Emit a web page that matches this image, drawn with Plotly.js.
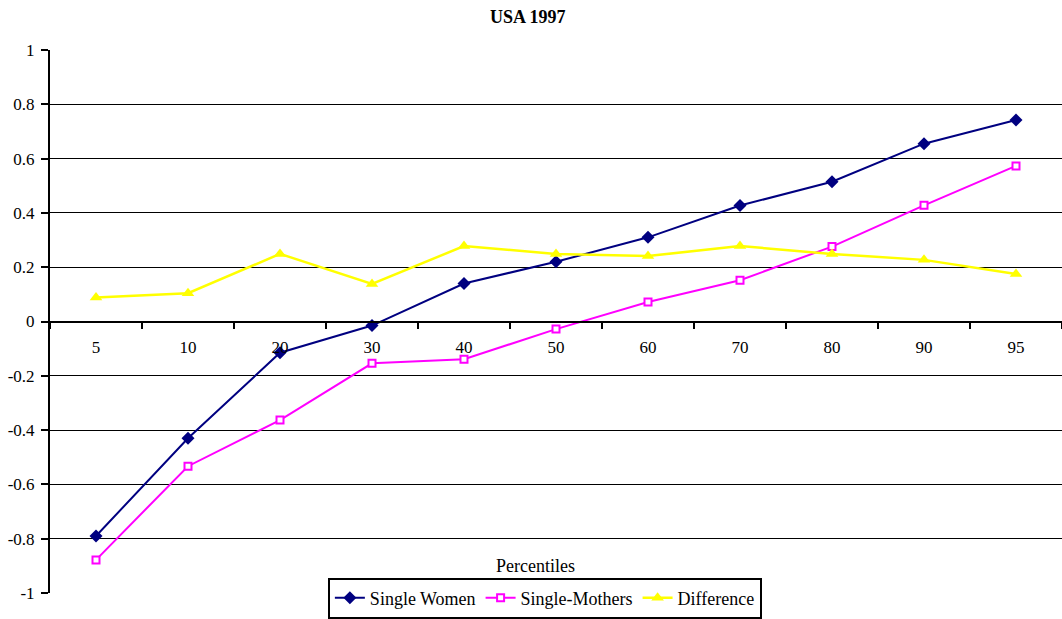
<!DOCTYPE html>
<html>
<head>
<meta charset="utf-8">
<script src="https://cdn.plot.ly/plotly-3.0.1.min.js"></script>
<style>html,body{margin:0;padding:0;background:#fff;}#chart{width:1062px;height:619px;}</style>
</head>
<body>
<div id="chart"></div>
<script>
var categories = ['5','10','20','30','40','50','60','70','80','90','95'];
var singleWomen = [-0.79,-0.43,-0.115,-0.015,0.14,0.22,0.31,0.427,0.515,0.655,0.742];
var singleMothers = [-0.878,-0.533,-0.363,-0.154,-0.139,-0.028,0.072,0.152,0.276,0.428,0.573];
var difference = [0.088,0.104,0.249,0.138,0.278,0.249,0.241,0.278,0.249,0.227,0.175];
var yTickVals = [-1,-0.8,-0.6,-0.4,-0.2,0,0.2,0.4,0.6,0.8,1];
var yTickText = ['-1','-0.8','-0.6','-0.4','-0.2','0','0.2','0.4','0.6','0.8','1'];
var gridVals = [-0.8,-0.6,-0.4,-0.2,0.2,0.4,0.6,0.8];

var FONT = 'Liberation Serif, serif';

var traces = [
  {x: categories, y: singleWomen, name: 'Single Women', type: 'scatter', mode: 'lines+markers',
   line: {color: '#000080', width: 2}, marker: {symbol: 'diamond', size: 10, color: '#000080'}},
  {x: categories, y: singleMothers, name: 'Single-Mothers', type: 'scatter', mode: 'lines+markers',
   line: {color: '#FF00FF', width: 2}, marker: {symbol: 'square', size: 7, color: '#FFFFFF', line: {color: '#FF00FF', width: 2}}},
  {x: categories, y: difference, name: 'Difference', type: 'scatter', mode: 'lines+markers',
   line: {color: '#FFFF00', width: 2.5}, marker: {symbol: 'triangle-up', size: 11, color: '#FFFF00'}},
  {x: [], y: [], xaxis: 'x', yaxis: 'y2', type: 'scatter', mode: 'lines', showlegend: false, hoverinfo: 'skip'}
];

var layout = {
  width: 1062, height: 619,
  margin: {l: 50, r: 0, t: 50, b: 26, pad: 0},
  paper_bgcolor: '#FFFFFF', plot_bgcolor: '#FFFFFF',
  font: {family: FONT, size: 17, color: '#000000'},
  title: {text: '<b>USA 1997</b>', font: {family: FONT, size: 18, color: '#000000'},
          x: 0.497, xref: 'container', xanchor: 'center', y: 0.9725, yref: 'container', yanchor: 'middle'},
  showlegend: true,
  legend: {orientation: 'h', xref: 'paper', yref: 'paper', x: 0.489, xanchor: 'center',
           y: -0.047, yanchor: 'bottom', bgcolor: '#FFFFFF', bordercolor: '#000000', borderwidth: 2,
           font: {family: FONT, size: 18, color: '#000000'}, traceorder: 'normal', tracegroupgap: 0},
  xaxis: {type: 'category', range: [-0.5, 10.5], anchor: 'free', position: 0.5,
          showline: true, linecolor: '#000000', linewidth: 2,
          ticks: 'outside', tickson: 'boundaries', ticklen: 6, tickwidth: 2, tickcolor: '#000000',
          ticklabelstandoff: 10,
          showgrid: false, zeroline: false, tickfont: {family: FONT, size: 17, color: '#000000'},
          fixedrange: true},
  yaxis: {range: [-1, 1], tickvals: yTickVals, ticktext: yTickText,
          showline: true, linecolor: '#000000', linewidth: 2,
          ticks: 'outside', ticklen: 7, tickwidth: 2, tickcolor: '#000000',
          ticklabelstandoff: 3,
          showgrid: false, zeroline: false, tickfont: {family: FONT, size: 17, color: '#000000'},
          fixedrange: true},
  yaxis2: {range: [-1, 1], overlaying: 'y', anchor: 'x', side: 'left', tickvals: gridVals, showticklabels: false,
           ticks: '', showline: false, showgrid: true, gridcolor: '#000000', gridwidth: 1, zeroline: false,
           fixedrange: true},
  annotations: [
    {text: 'Percentiles', xref: 'paper', yref: 'paper', x: 0.48, y: 0.05, xanchor: 'center', yanchor: 'middle',
     showarrow: false, font: {family: FONT, size: 18, color: '#000000'}}
  ]
};

Plotly.newPlot('chart', traces, layout, {displayModeBar: false, staticPlot: true});
</script>
</body>
</html>
